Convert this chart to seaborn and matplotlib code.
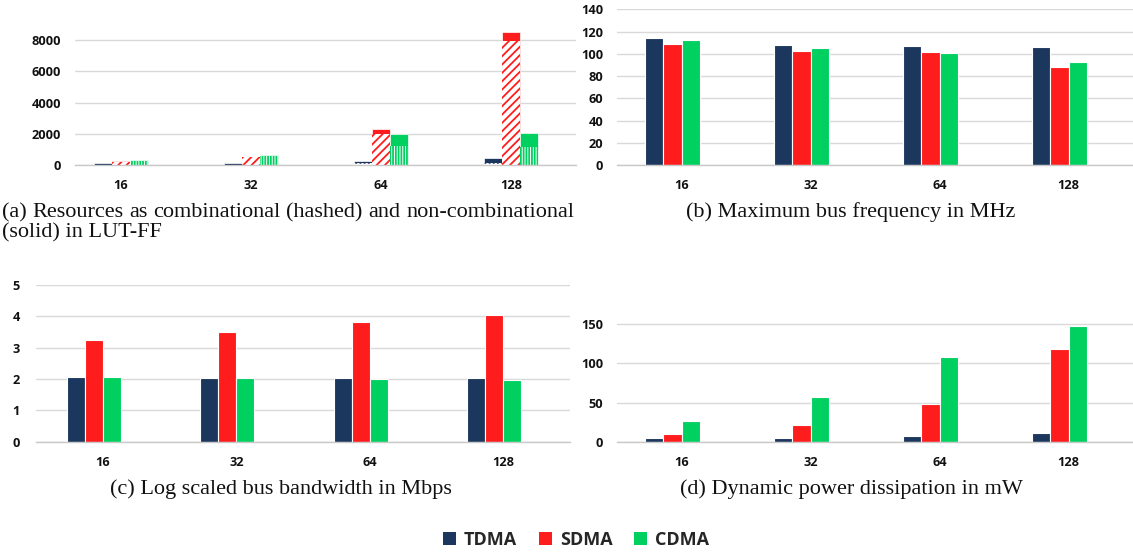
import matplotlib
matplotlib.use("Agg")
import matplotlib.pyplot as plt
import seaborn as sns
import pandas as pd
from matplotlib.patches import Patch
from matplotlib.ticker import FixedLocator

# ---------------- data ----------------
sizes = ["16", "32", "64", "128"]
protocols = ["TDMA", "SDMA", "CDMA"]
colors = ["#1C375E", "#FF1C1C", "#00D060"]

# (a) resources LUT-FF : total and combinational (hashed) part
tdma_res_total = [110, 110, 270, 470]
sdma_res_total = [260, 530, 2300, 8510]
cdma_res_total = [330, 640, 2000, 2050]
tdma_res_comb = [20, 20, 130, 150]
sdma_res_comb = [200, 500, 2000, 7950]
cdma_res_comb = [270, 600, 1220, 1170]

# (b) max bus frequency MHz
tdma_freq = [114.5, 108, 106.7, 105.8]
sdma_freq = [108.5, 102.8, 101.3, 88.1]
cdma_freq = [112.4, 105.2, 100.4, 92.9]

# (c) log scaled bandwidth
tdma_bw = [2.05, 2.03, 2.03, 2.02]
sdma_bw = [3.23, 3.51, 3.81, 4.04]
cdma_bw = [2.05, 2.03, 2.00, 1.97]

# (d) dynamic power mW
tdma_pow = [5.1, 4.3, 7.2, 10.7]
sdma_pow = [9.4, 21.3, 48.1, 118]
cdma_pow = [26, 57, 107.8, 147.8]


def long_df(t, s, c):
    rows = []
    for p, vals in zip(protocols, [t, s, c]):
        for sz, v in zip(sizes, vals):
            rows.append({"size": sz, "protocol": p, "value": v})
    return pd.DataFrame(rows)


# ---------------- style ----------------
sns.set_style("white")
plt.rcParams["font.family"] = ["Open Sans", "DejaVu Sans"]
plt.rcParams["hatch.linewidth"] = 1.3

W, H = 1133, 555
fig = plt.figure(figsize=(W / 100, H / 100), dpi=100)


def px_axes(x0, x1, y0, y1):
    return fig.add_axes([x0 / W, (H - y1) / H, (x1 - x0) / W, (y1 - y0) / H])


PAD = " "  # empty fourth series slot (as in the original spreadsheet charts)
palette = dict(zip(protocols, colors))
palette[PAD] = "white"
GRID = "#D9D9D9"
AXC = "#C8C8C8"
TICKFS = 9.2


def style(ax, yticks, ylim, xlim, ypad, minor=True):
    ax.set_xlim(*xlim)
    ax.set_ylim(*ylim)
    ax.yaxis.set_major_locator(FixedLocator(yticks))
    ax.grid(axis="y", color=GRID, lw=1.0)
    ax.grid(axis="x", visible=False)
    ax.set_axisbelow(True)
    for s in ["top", "right", "left"]:
        ax.spines[s].set_visible(False)
    ax.spines["bottom"].set_color(AXC)
    ax.spines["bottom"].set_linewidth(1.0)
    ax.tick_params(axis="y", length=0, pad=ypad, labelsize=TICKFS)
    ax.tick_params(axis="x", which="major", length=0, pad=10, labelsize=TICKFS)
    if minor:
        ax.xaxis.set_minor_locator(FixedLocator([-0.5, 0.5, 1.5, 2.5, 3.5]))
        ax.tick_params(axis="x", which="minor", length=4, width=1.0, color=AXC)
    for lab in ax.get_xticklabels() + ax.get_yticklabels():
        lab.set_fontweight("bold")
        lab.set_color("#111111")
    ax.set_xlabel("")
    ax.set_ylabel("")
    ax.set_facecolor("none")


base = dict(x="size", y="value", hue="protocol", order=sizes, palette=palette,
            errorbar=None, saturation=1, legend=False)

# ---- (a) ----
axa = px_axes(75, 576, 10, 165)
sns.barplot(data=long_df(tdma_res_total, sdma_res_total, cdma_res_total),
            hue_order=protocols, width=0.41, edgecolor="white", linewidth=0.5,
            ax=axa, **base)
n0 = len(axa.containers)
sns.barplot(data=long_df(tdma_res_comb, sdma_res_comb, cdma_res_comb),
            hue_order=protocols, width=0.41, ax=axa, **base)
hatches = ["....", "////", "||||||"]
for cont, col, h in zip(axa.containers[n0:], colors, hatches):
    for bar in cont:
        bar.set_facecolor("white")
        bar.set_edgecolor(col)
        bar.set_linewidth(0)
        bar.set_hatch(h)
style(axa, [0, 2000, 4000, 6000, 8000], (0, 9920), (-0.354, 3.5), 10, minor=False)

hue4 = protocols + [PAD]

# ---- (b) ----
axb = px_axes(617, 1133, 9.3, 165)
sns.barplot(data=long_df(tdma_freq, sdma_freq, cdma_freq), hue_order=hue4,
            width=0.56, edgecolor="white", linewidth=0.8, ax=axb, **base)
style(axb, list(range(0, 141, 20)), (0, 140), (-0.5, 3.5), 10)

# ---- (c) ----
axc = px_axes(36, 570, 285, 441.7)
sns.barplot(data=long_df(tdma_bw, sdma_bw, cdma_bw), hue_order=hue4,
            width=0.54, edgecolor="white", linewidth=0.8, ax=axc, **base)
style(axc, [0, 1, 2, 3, 4, 5], (0, 5), (-0.5, 3.5), 11.5)

# ---- (d) ----
axd = px_axes(617, 1133, 285, 441.7)
sns.barplot(data=long_df(tdma_pow, sdma_pow, cdma_pow), hue_order=hue4,
            width=0.56, edgecolor="white", linewidth=0.8, ax=axd, **base)
style(axd, [0, 50, 100, 150], (0, 200), (-0.5, 3.5), 10)

# ---- captions ----
SERIF = dict(family=["Liberation Serif", "DejaVu Serif"], size=16, color="#111111")


def ftext(x, y, s, ha="left"):
    return fig.text(x / W, (H - y) / H, s, ha=ha, va="baseline", **SERIF)


# justified first line of caption (a)
renderer = fig.canvas.get_renderer()
words = "(a) Resources as combinational (hashed) and non-combinational".split()
wtexts = [ftext(0, 217, w) for w in words]
widths = [t.get_window_extent(renderer).width for t in wtexts]
x_left, x_right = 2, 574
gap = (x_right - x_left - sum(widths)) / (len(words) - 1)
xpos = x_left
for t, wd in zip(wtexts, widths):
    t.set_x(xpos / W)
    xpos += wd + gap

ftext(2, 237, "(solid) in LUT-FF")
ftext(851, 217, "(b) Maximum bus frequency in MHz", ha="center")
ftext(281, 494, "(c) Log scaled bus bandwidth in Mbps", ha="center")
ftext(851, 494, "(d) Dynamic power dissipation in mW", ha="center")

# ---- legend ----
handles = [Patch(facecolor=c, edgecolor="none", label=p) for p, c in zip(protocols, colors)]
fig.legend(handles=handles, loc="center", bbox_to_anchor=(576 / W, (H - 540) / H),
           ncol=3, frameon=False, handlelength=0.7, handleheight=0.7,
           handletextpad=0.45, columnspacing=1.2,
           prop=dict(family=["Open Sans", "DejaVu Sans"], weight="bold", size=13))

fig.savefig("out.png", dpi=100, facecolor="white")
